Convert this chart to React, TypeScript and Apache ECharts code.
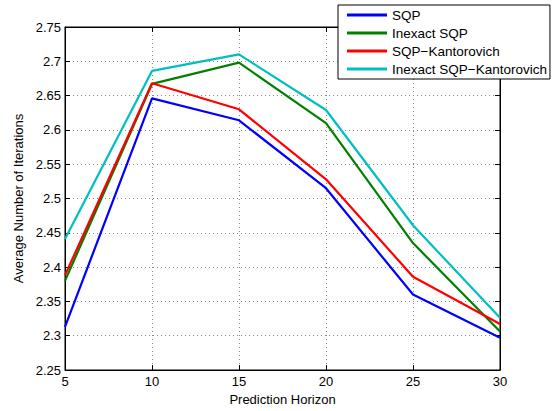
import React, { useEffect, useRef } from "react";
import * as echarts from "echarts";

const horizons = [5, 10, 15, 20, 25, 30];
const sqp = [2.313, 2.646, 2.614, 2.515, 2.36, 2.297];
const inexactSqp = [2.38, 2.667, 2.698, 2.61, 2.435, 2.306];
const sqpKantorovich = [2.388, 2.668, 2.63, 2.528, 2.386, 2.317];
const inexactSqpKantorovich = [2.441, 2.686, 2.71, 2.629, 2.461, 2.326];

const seriesNames = ["SQP", "Inexact SQP", "SQP\u2212Kantorovich", "Inexact SQP\u2212Kantorovich"];
const seriesColors = ["#0000ff", "#008000", "#ff0000", "#00bfbf"];
const seriesData = [sqp, inexactSqp, sqpKantorovich, inexactSqpKantorovich];

const FONT = "'Liberation Sans', Arial, Helvetica, sans-serif";

export default function App() {
  const ref = useRef<HTMLDivElement>(null);
  useEffect(() => {
    document.body.style.margin = "0";
    const chart = echarts.init(ref.current!, null, { renderer: "svg" });
    const gridLine = { show: true, lineStyle: { color: "#888", type: [1, 3] as any, width: 1 } };
    chart.setOption({
      animation: false,
      backgroundColor: "#fff",
      textStyle: { fontFamily: FONT },
      grid: { left: 65, top: 27, width: 435, height: 343, show: true, borderColor: "#000", borderWidth: 1, backgroundColor: "transparent" },
      legend: {
        orient: "vertical",
        left: 338,
        top: 5,
        padding: [3, 3, 3, 9],
        itemWidth: 40,
        itemHeight: 3,
        itemGap: 4,
        icon: "rect",
        backgroundColor: "#fff",
        borderColor: "#000",
        borderWidth: 1,
        borderRadius: 0,
        textStyle: { fontFamily: FONT, fontSize: 13.5, color: "#000", lineHeight: 14 },
        data: seriesNames,
      },
      xAxis: [
        {
          type: "value",
          min: 5,
          max: 30,
          interval: 5,
          name: "Prediction Horizon",
          nameLocation: "middle",
          nameGap: 21,
          nameTextStyle: { fontFamily: FONT, fontSize: 13, color: "#000" },
          axisLine: { show: true, lineStyle: { color: "#000", width: 1 } },
          axisTick: { show: true, inside: true, length: 5, lineStyle: { color: "#000" } },
          axisLabel: { fontFamily: FONT, fontSize: 13, color: "#000", margin: 5 },
          splitLine: gridLine,
        },
        {
          type: "value",
          position: "top",
          min: 5,
          max: 30,
          interval: 5,
          axisLine: { show: true, lineStyle: { color: "#000", width: 1 } },
          axisTick: { show: true, inside: true, length: 5, lineStyle: { color: "#000" } },
          axisLabel: { show: false },
          splitLine: { show: false },
        },
      ],
      yAxis: [
        {
          type: "value",
          min: 2.25,
          max: 2.75,
          interval: 0.05,
          name: "Average Number of Iterations",
          nameLocation: "middle",
          nameGap: 36,
          nameTextStyle: { fontFamily: FONT, fontSize: 13, color: "#000" },
          axisLine: { show: true, lineStyle: { color: "#000", width: 1 } },
          axisTick: { show: true, inside: true, length: 5, lineStyle: { color: "#000" } },
          axisLabel: { fontFamily: FONT, fontSize: 13, color: "#000", margin: 4, formatter: (v: number) => String(parseFloat(v.toFixed(2))) },
          splitLine: gridLine,
        },
        {
          type: "value",
          position: "right",
          min: 2.25,
          max: 2.75,
          interval: 0.05,
          axisLine: { show: true, lineStyle: { color: "#000", width: 1 } },
          axisTick: { show: true, inside: true, length: 5, lineStyle: { color: "#000" } },
          axisLabel: { show: false },
          splitLine: { show: false },
        },
      ],
      series: seriesData.map((d, i) => ({
        name: seriesNames[i],
        type: "line",
        data: horizons.map((h, j) => [h, d[j]]),
        showSymbol: false,
        symbol: "none",
        lineStyle: { color: seriesColors[i], width: 2.2 },
        itemStyle: { color: seriesColors[i] },
        z: 2 + i,
      })),
    });
    return () => chart.dispose();
  }, []);
  return <div ref={ref} style={{ width: 557, height: 411 }} />;
}
